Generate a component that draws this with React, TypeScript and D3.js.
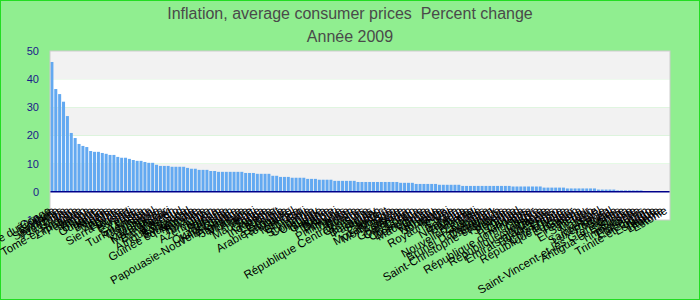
import React, { useEffect } from "react";
import * as d3 from "d3";

const titleText = "Inflation, average consumer prices  Percent change";
const subtitleText = "Année 2009";

const countries: string[] = [
  "République démocratique du Congo", "Éthiopie", "Érythrée", "Seychelles", "Venezuela",
  "Ghana", "Iran", "Sao Tomé-et-Principe", "Zimbabwe", "Pakistan",
  "Samoa", "Angola", "Ukraine", "Ouganda", "Kenya",
  "Bélarus", "Nigéria", "Zambie", "Égypte", "Sierra Leone",
  "Russie", "Burundi", "Inde", "Yémen", "Sri Lanka",
  "Turkménistan", "Tadjikistan", "Népal", "Mongolie", "Kazakhstan",
  "Madagascar", "Malawi", "Bangladesh", "Lesotho", "Afrique du Sud",
  "Botswana", "Swaziland", "Guinée équatoriale", "Namibie", "Rwanda",
  "Tanzanie", "Libye", "Azerbaïdjan", "Liberia", "Vietnam",
  "Turquie", "Ouzbékistan", "Kirghizistan", "Papouasie-Nouvelle-Guinée", "Argentine",
  "Jamaïque", "Moldavie", "Algérie", "Haïti", "Mauritanie",
  "Tonga", "Gambie", "Indonésie", "Lettonie", "Koweït",
  "Géorgie", "Arabie saoudite", "Roumanie", "Brésil", "Mexique",
  "Bhoutan", "Fidji", "Suriname", "Colombie", "Uruguay",
  "Islande", "Guyana", "Hongrie", "Serbie", "Djibouti",
  "Pologne", "Philippines", "Tunisie", "Oman", "Bolivie",
  "République Centrafricaine", "Comores", "Syrie", "Bahamas", "Paraguay",
  "Soudan", "Maroc", "Cap-Vert", "Mozambique", "Monténégro",
  "Belize", "Australie", "Guatemala", "Cameroun", "Congo",
  "Costa Rica", "Dominique", "Macédoine", "Grèce", "Vanuatu",
  "Norvège", "Jordanie", "Malte", "Royaume-Uni", "Corée",
  "Italie", "Bahreïn", "Nicaragua", "Barbade", "Albanie",
  "Mali", "Nouvelle-Zélande", "Pays-Bas", "Autriche", "Brunéi Darussalam",
  "Danemark", "Grenade", "Saint-Christophe-et-Niévès", "Finlande", "Slovénie",
  "Belgique", "Tchad", "Canada", "Honduras", "République dominicaine",
  "Niger", "Chypre", "République slovaque", "Allemagne", "Croatie",
  "Émirats arabes unis", "Burkina Faso", "France", "Côte d'Ivoire", "République tchèque",
  "Équateur", "Gabon", "Panama", "Pérou", "El Salvador",
  "Togo", "Malaisie", "Israël", "Sainte-Lucie", "Luxembourg",
  "Portugal", "Suède", "Saint-Vincent-et-les Grenadines", "Chine", "Antigua-et-Barbuda",
  "Suisse", "Timor-Leste", "Thaïlande", "États-Unis", "Japon",
  "Trinité-et-Tobago", "Espagne", "Irlande", "Lituanie", "Estonie",
];

const inflation: number[] = [
  46.1, 36.5, 34.7, 32.0, 26.9, 20.9, 19.1, 17.0, 16.3, 15.9,
  14.5, 14.2, 14.2, 13.8, 13.5, 13.1, 13.1, 12.4, 12.1, 12.1,
  11.7, 11.3, 11.0, 11.0, 10.6, 10.3, 10.3, 9.6, 9.2, 9.2,
  9.2, 8.9, 8.9, 8.9, 8.9, 8.5, 8.2, 8.2, 7.8, 7.8,
  7.8, 7.4, 7.4, 7.1, 7.1, 7.1, 7.1, 7.1, 7.1, 7.1,
  6.7, 6.7, 6.7, 6.4, 6.4, 6.4, 6.4, 5.7, 5.7, 5.3,
  5.3, 5.3, 5.0, 5.0, 5.0, 5.0, 4.6, 4.6, 4.6, 4.3,
  4.3, 4.3, 4.3, 3.9, 3.9, 3.9, 3.9, 3.9, 3.9, 3.5,
  3.5, 3.5, 3.5, 3.5, 3.5, 3.5, 3.5, 3.5, 3.5, 3.5,
  3.2, 3.2, 3.2, 3.2, 2.8, 2.8, 2.8, 2.8, 2.8, 2.8,
  2.5, 2.5, 2.5, 2.5, 2.5, 2.5, 2.1, 2.1, 2.1, 2.1,
  2.1, 2.1, 2.1, 2.1, 2.1, 2.1, 2.1, 2.1, 2.1, 1.9,
  1.9, 1.9, 1.9, 1.9, 1.9, 1.9, 1.9, 1.5, 1.5, 1.5,
  1.5, 1.5, 1.5, 1.2, 1.2, 1.2, 1.2, 1.2, 1.2, 1.2,
  1.2, 0.8, 0.8, 0.8, 0.8, 0.8, 0.5, 0.5, 0.5, 0.5,
  0.5, 0.5, 0.5, 0.3, 0.3, 0.2, 0.2, 0.2, 0.1, 0.1,
];

const yTicks: number[] = [-10, 0, 10, 20, 30, 40, 50];

const W = 700;
const H = 300;
const plot = { left: 50, right: 670, top: 51, bottom: 220 };
const FONT = "'Liberation Sans', Arial, Helvetica, sans-serif";

export default function App() {
  useEffect(() => {
    document.body.style.margin = "0";
  }, []);

  const x = d3
    .scaleBand<number>()
    .domain(d3.range(inflation.length))
    .range([plot.left, plot.right])
    .paddingInner(0.22)
    .paddingOuter(0.1);

  const y = d3.scaleLinear().domain([-10, 50]).range([plot.bottom, plot.top]);
  const y0 = y(0);

  const bands = d3.range(-10, 50, 10);

  return (
    <svg
      width={W}
      height={H}
      style={{ position: "absolute", left: 0, top: 0, display: "block" }}
      fontFamily={FONT}
    >
      <rect x={0.5} y={0.5} width={W - 1} height={H - 1} fill="#90ee90" stroke="#22dd22" strokeWidth={1} />

      <text x={W / 2} y={19} textAnchor="middle" fontSize={16} fill="#4a4a4a" style={{ whiteSpace: "pre" }}>
        {titleText}
      </text>
      <text x={W / 2} y={42} textAnchor="middle" fontSize={16} fill="#4a4a4a">
        {subtitleText}
      </text>

      {bands.map((v) => (
        <rect
          key={"band" + v}
          x={plot.left}
          y={y(v + 10)}
          width={plot.right - plot.left}
          height={y(v) - y(v + 10)}
          fill={((v / 10) % 2 === 0) ? "#f2f2f2" : "#ffffff"}
        />
      ))}

      {inflation.map((v, i) => (
        <rect
          key={"bar" + i}
          x={x(i)}
          y={y(Math.max(0, v))}
          width={x.bandwidth()}
          height={Math.abs(y(v) - y0)}
          fill="#63a9f1"
        />
      ))}

      <line x1={plot.left} x2={plot.right} y1={y0} y2={y0} stroke="#00008b" strokeWidth={1.5} />
      <rect
        x={plot.left}
        y={plot.top}
        width={plot.right - plot.left}
        height={plot.bottom - plot.top}
        fill="none"
        stroke="#cccccc"
        strokeWidth={1}
      />

      {yTicks.map((t) => (
        <text
          key={"yt" + t}
          x={39}
          y={y(t)}
          dy="0.35em"
          textAnchor="end"
          fontSize={11}
          fill="#1a1a8a"
        >
          {t}
        </text>
      ))}

      {countries.map((c, i) => {
        const cx = (x(i) as number) + x.bandwidth() / 2;
        return (
          <text
            key={"xl" + i}
            transform={`translate(${cx},${y0 + 21}) rotate(-30)`}
            textAnchor="end"
            fontSize={11.5}
            fill="#000"
          >
            {c}
          </text>
        );
      })}
    </svg>
  );
}
